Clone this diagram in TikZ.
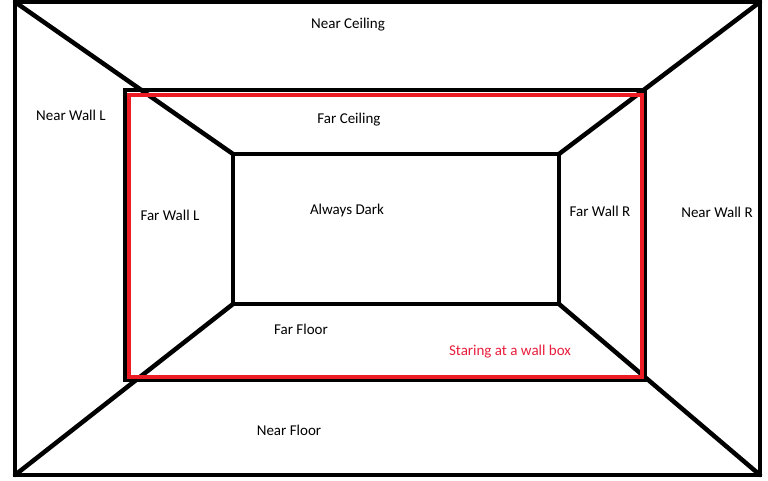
\documentclass[tikz,border=0pt]{standalone}
\usepackage{fontspec}
\setmainfont{Carlito}
\definecolor{paintred}{RGB}{237,28,36}
\definecolor{labelred}{RGB}{232,30,60}
\begin{document}
\begin{tikzpicture}[x=1pt,y=-1pt,
  wall/.style={line width=4.5pt, line join=miter, line cap=rect},
  redbox/.style={line width=4pt, draw=paintred},
  lbl/.style={font=\fontsize{15}{17}\selectfont, inner sep=0pt},
  redlbl/.style={lbl, text=labelred}]
\useasboundingbox (0,0) rectangle (768,480);
% outer corners
\coordinate (o1) at (15,2);
\coordinate (o2) at (760,2);
\coordinate (o3) at (760,475);
\coordinate (o4) at (15,475);
% middle rectangle
\coordinate (m1) at (125,90);
\coordinate (m3) at (645,380);
% red box
\coordinate (r1) at (129,95);
\coordinate (r3) at (642,377);
% inner rectangle
\coordinate (i1) at (233,154);
\coordinate (i2) at (559,154);
\coordinate (i3) at (559,304);
\coordinate (i4) at (233,304);
\draw[wall] (o1) -- (o2) -- (o3) -- (o4) -- cycle;
\draw[wall] (m1) rectangle (m3);
\draw[wall, line cap=round] (o1) -- (i1);
\draw[wall, line cap=round] (o2) -- (i2);
\draw[wall, line cap=round] (o3) -- (i3);
\draw[wall, line cap=round] (o4) -- (i4);
\draw[redbox] (r1) rectangle (r3);
\draw[wall] (i1) -- (i2) -- (i3) -- (i4) -- cycle;
% labels
\node[lbl] (nc) at (348,25) {Near Ceiling};
\node[lbl] (nwl) at (71,115) {Near Wall L};
\node[lbl] (fc) at (349,120) {Far Ceiling};
\node[lbl] (fwl) at (170,215) {Far Wall L};
\node[lbl] (ad) at (347,210) {Always Dark};
\node[lbl] (fwr) at (600,211) {Far Wall R};
\node[lbl] (nwr) at (717,212) {Near Wall R};
\node[lbl] (ff) at (301,329) {Far Floor};
\node[redlbl] (sw) at (510,352) {Staring at a wall box};
\node[lbl] (nf) at (289,430) {Near Floor};
\end{tikzpicture}
\end{document}
